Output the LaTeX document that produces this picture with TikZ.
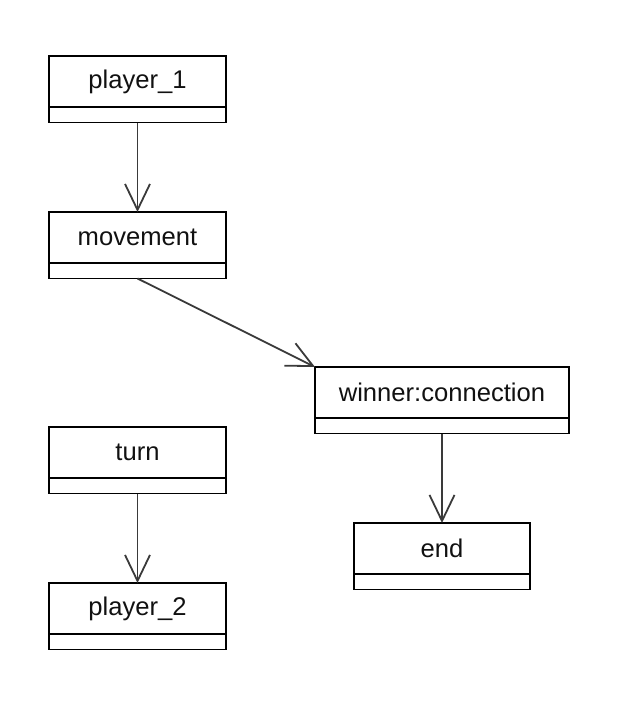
\documentclass[tikz,border=0pt]{standalone}
\usepackage{fontspec}
\setmainfont{Liberation Sans}
\usetikzlibrary{arrows.meta,positioning}
\definecolor{arrowgray}{HTML}{3A3A3A}
\definecolor{txt}{HTML}{111111}
\tikzset{
  top/.style={draw=black, line width=1.8pt, outer sep=0pt, minimum height=51pt, inner sep=0pt,
    anchor=north west, font=\fontsize{25.6}{28}\selectfont, text=txt},
  comp/.style={draw=black, line width=1.8pt, outer sep=0pt, minimum height=15.5pt, inner sep=0pt, anchor=north},
  conn/.style={draw=arrowgray, line width=1.8pt, -{Straight Barb[length=26pt,width=25pt,line width=1.8pt]}}
}
\begin{document}
\begin{tikzpicture}[x=1pt,y=-1pt]
\useasboundingbox (0,0) rectangle (631,702);
% player_1
\node[top, minimum width=177pt] (p1) at (49,56) {player\_1};
\node[comp, minimum width=177pt] (p1b) at (p1.south) {};
% movement
\node[top, minimum width=177pt] (mv) at (49,212) {movement};
\node[comp, minimum width=177pt] (mvb) at (mv.south) {};
% winner
\node[top, minimum width=254pt] (wn) at (315,367) {winner:connection};
\node[comp, minimum width=254pt] (wnb) at (wn.south) {};
% turn
\node[top, minimum width=177pt] (tn) at (49,427) {turn};
\node[comp, minimum width=177pt] (tnb) at (tn.south) {};
% player_2
\node[top, minimum width=177pt] (p2) at (49,583) {player\_2};
\node[comp, minimum width=177pt] (p2b) at (p2.south) {};
% end
\node[top, minimum width=176pt] (en) at (354,523) {end};
\node[comp, minimum width=176pt] (enb) at (en.south) {};
% connectors
\draw[conn] (p1b.south) -- (mv.north);
\draw[conn] (mvb.south) -- (wn.north west);
\draw[conn] (tnb.south) -- (p2.north);
\draw[conn] (wnb.south) -- (en.north -| wnb.south);
\end{tikzpicture}
\end{document}
